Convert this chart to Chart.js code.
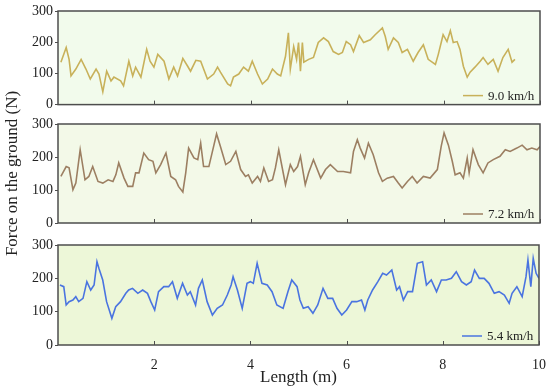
<!DOCTYPE html>
<html>
<head>
<meta charset="utf-8">
<script src="https://cdn.jsdelivr.net/npm/chart.js@4.4.0/dist/chart.umd.min.js"></script>
<style>
    body { margin: 0; background: #ffffff; }
    #wrap { position: relative; width: 550px; height: 390px; }
    canvas { position: absolute; left: 0; }
</style>
</head>
<body>
<div id="wrap">
    <canvas id="c9" style="top:0px"></canvas>
    <canvas id="c72" style="top:60px"></canvas>
    <canvas id="c54" style="top:230px"></canvas>
</div>
<script>
// tick labels
const xTicks = [2, 4, 6, 8, 10];
const yTicks = [0, 100, 200, 300];

// 9.0 km/h
const len9 = [0.06, 0.17, 0.23, 0.27, 0.37, 0.48, 0.58, 0.67, 0.79, 0.85, 0.93, 1.01, 1.1, 1.16, 1.3, 1.36, 1.47, 1.55, 1.61, 1.72,
    1.84, 1.91, 1.99, 2.07, 2.2, 2.3, 2.4, 2.48, 2.59, 2.69, 2.75, 2.86, 2.96, 3.1, 3.23, 3.31, 3.37, 3.52, 3.58, 3.64,
    3.75, 3.85, 3.95, 4.03, 4.14, 4.24, 4.35, 4.45, 4.55, 4.62, 4.72, 4.78, 4.82, 4.89, 4.95, 4.99, 5.03, 5.07, 5.1, 5.2,
    5.3, 5.4, 5.51, 5.61, 5.71, 5.82, 5.9, 5.98, 6.07, 6.13, 6.25, 6.34, 6.48, 6.58, 6.73, 6.79, 6.85, 6.96, 7.06, 7.14,
    7.25, 7.37, 7.47, 7.58, 7.68, 7.83, 7.89, 7.99, 8.07, 8.14, 8.2, 8.28, 8.34, 8.41, 8.49, 8.55, 8.65, 8.76, 8.82, 8.92,
    9.03, 9.13, 9.23, 9.34, 9.42, 9.48];
const force9 = [136, 183, 145, 92, 114, 145, 114, 82, 114, 98, 41, 107, 76, 88, 76, 60, 139, 92, 120, 88,
    177, 139, 120, 161, 139, 82, 120, 92, 148, 123, 107, 142, 139, 82, 98, 120, 104, 66, 60, 88,
    98, 120, 107, 139, 98, 66, 82, 114, 98, 92, 155, 230, 114, 186, 145, 199, 107, 199, 136, 145,
    151, 199, 214, 202, 170, 161, 167, 202, 192, 170, 221, 199, 208, 224, 246, 218, 177, 214, 199, 167,
    177, 139, 167, 192, 145, 129, 161, 224, 202, 237, 199, 202, 177, 123, 88, 104, 120, 139, 151, 129,
    145, 107, 151, 177, 136, 145];

// 7.2 km/h
const len72 = [0.06, 0.17, 0.23, 0.31, 0.37, 0.46, 0.56, 0.64, 0.72, 0.83, 0.93, 1.04, 1.14, 1.2, 1.26, 1.37, 1.45, 1.55, 1.61, 1.68,
    1.78, 1.88, 1.97, 2.03, 2.13, 2.24, 2.34, 2.44, 2.5, 2.59, 2.65, 2.71, 2.82, 2.9, 2.96, 3.02, 3.13, 3.29, 3.37, 3.48,
    3.58, 3.69, 3.79, 3.89, 3.95, 4.03, 4.14, 4.2, 4.27, 4.37, 4.45, 4.51, 4.58, 4.72, 4.82, 4.89, 4.97, 5.03, 5.13, 5.2,
    5.3, 5.45, 5.55, 5.65, 5.8, 5.92, 6.07, 6.13, 6.21, 6.27, 6.36, 6.44, 6.54, 6.65, 6.73, 6.83, 6.96, 7.06, 7.14, 7.25,
    7.35, 7.45, 7.58, 7.72, 7.87, 7.95, 8.01, 8.1, 8.18, 8.24, 8.34, 8.41, 8.49, 8.53, 8.61, 8.72, 8.82, 8.92, 9.03, 9.17,
    9.28, 9.38, 9.52, 9.63, 9.73, 9.83, 9.94, 10];
const force72 = [141, 171, 167, 101, 121, 222, 131, 141, 171, 126, 121, 131, 126, 146, 182, 136, 111, 111, 152, 152,
    212, 192, 187, 152, 177, 212, 141, 131, 111, 94, 152, 227, 197, 192, 242, 171, 171, 270, 232, 177,
    187, 217, 162, 141, 146, 121, 141, 126, 167, 126, 131, 167, 222, 116, 177, 156, 171, 202, 116, 152,
    192, 136, 162, 177, 156, 156, 152, 217, 252, 227, 197, 242, 207, 152, 126, 136, 141, 121, 106, 126,
    141, 121, 141, 136, 162, 232, 273, 236, 187, 146, 152, 136, 197, 152, 222, 177, 152, 182, 192, 202,
    222, 217, 227, 236, 222, 227, 222, 232];

// 5.4 km/h
const len54 = [0.04, 0.12, 0.17, 0.23, 0.31, 0.37, 0.43, 0.52, 0.6, 0.68, 0.75, 0.81, 0.85, 0.93, 1.01, 1.12, 1.2, 1.3, 1.41, 1.47,
    1.55, 1.66, 1.76, 1.86, 1.93, 2.01, 2.09, 2.2, 2.3, 2.38, 2.48, 2.59, 2.69, 2.75, 2.86, 2.92, 3.0, 3.1, 3.21, 3.31,
    3.42, 3.52, 3.6, 3.64, 3.73, 3.83, 3.93, 4.0, 4.06, 4.14, 4.24, 4.35, 4.45, 4.55, 4.68, 4.78, 4.86, 4.97, 5.03, 5.1,
    5.2, 5.3, 5.4, 5.51, 5.61, 5.71, 5.8, 5.9, 6.0, 6.11, 6.21, 6.31, 6.38, 6.44, 6.54, 6.65, 6.75, 6.83, 6.94, 7.04,
    7.1, 7.18, 7.27, 7.37, 7.47, 7.58, 7.66, 7.76, 7.87, 7.97, 8.07, 8.18, 8.28, 8.39, 8.49, 8.59, 8.66, 8.76, 8.86, 8.96,
    9.07, 9.17, 9.28, 9.38, 9.44, 9.54, 9.65, 9.73, 9.77, 9.83, 9.88, 9.94, 10];
const force54 = [180, 175, 120, 130, 135, 145, 130, 140, 190, 165, 180, 250, 230, 195, 130, 80, 115, 130, 155, 165,
    170, 155, 165, 155, 130, 105, 160, 175, 175, 190, 140, 185, 150, 160, 120, 170, 195, 130, 90, 110,
    120, 150, 180, 205, 165, 110, 185, 190, 185, 245, 185, 180, 160, 120, 110, 160, 195, 175, 135, 110,
    115, 95, 120, 170, 140, 140, 110, 90, 105, 130, 130, 135, 105, 135, 165, 190, 215, 210, 225, 165,
    175, 135, 160, 160, 245, 250, 180, 195, 160, 195, 195, 200, 220, 190, 180, 190, 225, 200, 200, 185,
    155, 160, 150, 125, 155, 175, 145, 205, 255, 175, 260, 215, 200];

const serif = "'Liberation Serif', 'DejaVu Serif', serif";

function toPoints(xs, ys) {
    return xs.map(function (x, i) { return { x: x, y: ys[i] }; });
}

// panel background, frame, inner x tick marks and legend
const panelPlugin = {
    id: 'panel',
    beforeDatasetsDraw: function (chart, args, opts) {
        const a = chart.chartArea;
        const ctx = chart.ctx;
        ctx.save();
        ctx.fillStyle = opts.bg;
        ctx.fillRect(a.left, a.top, a.right - a.left, a.bottom - a.top);
        ctx.restore();
    },
    afterDatasetsDraw: function (chart, args, opts) {
        const a = chart.chartArea;
        const ctx = chart.ctx;
        const xs = chart.scales.x;
        ctx.save();
        ctx.strokeStyle = '#4d4d4d';
        ctx.lineWidth = 1.5;
        ctx.strokeRect(a.left, a.top, a.right - a.left, a.bottom - a.top);
        ctx.lineWidth = 1;
        xTicks.forEach(function (t) {
            const px = Math.round(xs.getPixelForValue(t)) + 0.5;
            ctx.beginPath();
            ctx.moveTo(px, a.bottom);
            ctx.lineTo(px, a.bottom - 4);
            ctx.stroke();
        });
        // legend
        const ds = chart.data.datasets[0];
        const y = a.bottom - 9;
        ctx.strokeStyle = ds.borderColor;
        ctx.lineWidth = 1.5;
        ctx.beginPath();
        ctx.moveTo(a.right - 77, y);
        ctx.lineTo(a.right - 57, y);
        ctx.stroke();
        ctx.fillStyle = '#222';
        ctx.font = '13px ' + serif;
        ctx.textAlign = 'left';
        ctx.textBaseline = 'middle';
        ctx.fillText(ds.label, a.right - 52, y + 1);
        ctx.restore();
    }
};

function makePanel(id, w, h, padTop, padBottom, label, pts, color, bg, showX, yTitle) {
    const cv = document.getElementById(id);
    cv.width = w;
    cv.height = h;
    cv.style.width = w + 'px';
    cv.style.height = h + 'px';
    return new Chart(cv.getContext('2d'), {
        type: 'line',
        data: {
            datasets: [{
                label: label,
                data: pts,
                borderColor: color,
                borderWidth: 1.6,
                pointRadius: 0,
                tension: 0
            }]
        },
        plugins: [panelPlugin],
        options: {
            responsive: false,
            animation: false,
            layout: { padding: { top: padTop, bottom: padBottom, left: 0, right: 10 } },
            plugins: {
                legend: { display: false },
                tooltip: { enabled: false },
                panel: { bg: bg }
            },
            scales: {
                x: {
                    type: 'linear',
                    min: 0,
                    max: 10,
                    grid: { display: false },
                    border: { display: false },
                    afterBuildTicks: function (s) { s.ticks = xTicks.map(function (v) { return { value: v }; }); },
                    ticks: {
                        display: showX,
                        color: '#222',
                        padding: 4,
                        maxRotation: 0,
                        font: { family: serif, size: 14 }
                    },
                    title: {
                        display: showX,
                        text: 'Length (m)',
                        color: '#222',
                        padding: { top: 0, bottom: 2 },
                        font: { family: serif, size: 17 }
                    },
                    afterFit: function (s) { s.height = showX ? 45 : 0; }
                },
                y: {
                    min: 0,
                    max: 300,
                    grid: {
                        display: true,
                        drawOnChartArea: false,
                        drawTicks: true,
                        tickLength: 3,
                        color: '#4d4d4d'
                    },
                    border: { display: false },
                    afterBuildTicks: function (s) { s.ticks = yTicks.map(function (v) { return { value: v }; }); },
                    ticks: {
                        color: '#222',
                        padding: 2,
                        font: { family: serif, size: 14 }
                    },
                    title: {
                        display: !!yTitle,
                        text: yTitle || '',
                        color: '#222',
                        padding: { top: 2, bottom: 0 },
                        font: { family: serif, size: 17 }
                    },
                    afterFit: function (s) { s.width = 58; }
                }
            }
        }
    });
}

makePanel('c9', 550, 115, 11, 9, '9.0 km/h', toPoints(len9, force9), '#c8b15a', '#f2fbec', false, null);
makePanel('c72', 550, 230, 64, 67, '7.2 km/h', toPoints(len72, force72), '#9c7f62', '#f3f9e8', false, 'Force on the ground (N)');
makePanel('c54', 550, 160, 15, 0, '5.4 km/h', toPoints(len54, force54), '#4a74e0', '#edf7d8', true, null);
</script>
</body>
</html>
